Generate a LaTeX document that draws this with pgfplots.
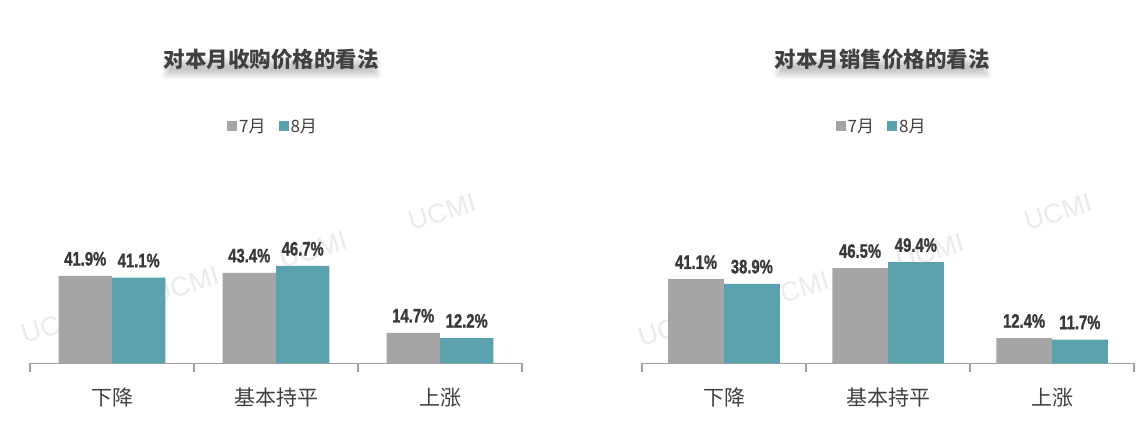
\documentclass[border=0pt]{standalone}
\usepackage{pgfplots}
\usepackage{pgfplotstable}
\pgfplotsset{compat=1.18}
\usetikzlibrary{shadows.blur}
\usepackage{fontspec}
\setmainfont{Noto Sans CJK SC}
\newfontfamily\valfont[FakeStretch=0.76, FakeBold=1.2]{Liberation Sans Bold}
\newfontfamily\wmfont{Liberation Sans}

\definecolor{jul}{HTML}{A5A5A5}
\definecolor{aug}{HTML}{5AA2AE}
\definecolor{txt}{HTML}{404040}
\definecolor{axisgray}{HTML}{A0A0A0}
\definecolor{wmgray}{HTML}{EBEBEB}

% share of respondents, per answer, July vs August
\pgfplotstableread{
idx jul aug
0 41.9 41.1
1 43.4 46.7
2 14.7 12.2
}\buyprice
\pgfplotstableread{
idx jul aug
0 41.1 38.9
1 46.5 49.4
2 12.4 11.7
}\sellprice

\pgfplotsset{
  pricechart/.style={
    scale only axis,
    width=492pt,
    anchor=south west,
    ybar=0pt,
    xmin=-0.5, xmax=2.5,
    ymin=0, ymax=60,
    axis x line=bottom,
    axis y line=none,
    x axis line style={-, draw=axisgray, line width=1.2pt},
    xtick={0,1,2},
    xticklabels={下降,基本持平,上涨},
    major tick length=0pt,
    tick style={draw=axisgray, line width=1.2pt},
    extra x ticks={-0.5,0.5,1.5,2.5},
    extra x tick labels={},
    extra x tick style={major tick length=9pt, tick align=outside},
    xticklabel style={font=\fontsize{21}{24}\selectfont, text=txt,
      anchor=center, yshift=-34.5pt},
    clip=false,
    /pgf/number format/assume math mode=true,
    nodes near coords={\pgfmathprintnumber[fixed,fixed zerofill,precision=1]{\pgfplotspointmeta}\%},
    every node near coord/.append style={font=\valfont\fontsize{19.5}{20}\selectfont,
      text=black!78, anchor=south, inner sep=0pt, yshift=10pt},
    title style={font=\bfseries\fontsize{21.5}{24}\selectfont, text=black!75, anchor=center},
    legend columns=2,
    legend style={draw=none, fill=none, inner sep=0pt, anchor=center,
      font=\fontsize{17}{20}\selectfont, text=txt,
      /tikz/every even column/.append style={column sep=11pt},
      nodes={inner xsep=2pt}},
    legend image code/.code={\fill[##1] (0pt,-4pt) rectangle (10pt,6pt);},
  },
  julbar/.style={fill=jul, draw=none},
  augbar/.style={fill=aug, draw=none},
}

\begin{document}
\begin{tikzpicture}[x=1pt, y=1pt]
\path[use as bounding box] (0,0) rectangle (1148,439);

% soft shadow behind the panel titles
\begin{scope}[title halo/.style={blur shadow={shadow xshift=0pt, shadow yshift=-3pt,
    shadow blur radius=5pt, shadow opacity=22, shadow blur steps=10}}]
  \path[title halo] (166,367) rectangle (377,381);
  \path[title halo] (778,367) rectangle (987,381);
\end{scope}

% UCMI watermark behind the bars
\begin{scope}[every node/.style={font=\wmfont\fontsize{27}{30}\selectfont, text=wmgray, rotate=17}]
  \node at (55,114) {UCMI};
  \node at (185,154) {UCMI};
  \node at (313,189) {UCMI};
  \node at (442,227) {UCMI};
  \node at (672,111) {UCMI};
  \node at (795,149) {UCMI};
  \node at (930,187) {UCMI};
  \node at (1058,227) {UCMI};
\end{scope}

% purchase prices
\begin{axis}[pricechart,
  at={(30pt,75.5pt)}, height=125.4pt, bar width=0.326,
  title={对本月收购价格的看法},
  title style={at={(0.49,2.38)}},
  legend style={at={(0.494,1.886)}}]
  \addplot[julbar] table[x=idx, y=jul] {\buyprice};
  \addplot[augbar] table[x=idx, y=aug] {\buyprice};
  \legend{7月,8月}
\end{axis}

% selling prices
\begin{axis}[pricechart,
  at={(642pt,75.5pt)}, height=123pt, bar width=0.34,
  title={对本月销售价格的看法},
  title style={at={(0.488,2.427)}},
  legend style={at={(0.487,1.923)}}]
  \addplot[julbar] table[x=idx, y=jul] {\sellprice};
  \addplot[augbar] table[x=idx, y=aug] {\sellprice};
  \legend{7月,8月}
\end{axis}
\end{tikzpicture}
\end{document}
